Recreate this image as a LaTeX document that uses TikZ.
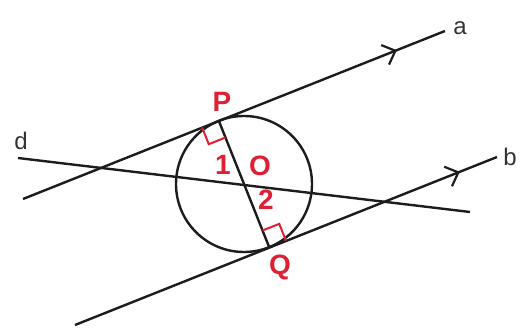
\documentclass[tikz,border=0pt]{standalone}
\usepackage{fontspec}
\setmainfont{Liberation Sans}
\usetikzlibrary{decorations.markings,arrows.meta,calc}
\definecolor{redlab}{RGB}{222,32,52}
\definecolor{ink}{RGB}{28,28,28}
\begin{document}
\begin{tikzpicture}[x=1pt,y=-1pt,
  line/.style={draw=ink,line width=2.4pt},
  midarrow/.style={postaction={decorate},decoration={markings,mark=at position #1 with {\arrow{Straight Barb[length=11pt,width=21pt,line width=2.2pt]}}}},
  redtxt/.style={text=redlab,font=\fontsize{28}{28}\selectfont\bfseries,inner sep=0pt},
  lbl/.style={text=ink!90,font=\fontsize{24}{24}\selectfont,inner sep=0pt},
  rmark/.style={draw=redlab,line width=2pt}]
\useasboundingbox (0,0) rectangle (520,329);
% key points
\coordinate (O) at (244,184);
\coordinate (P) at (218.8,120.8);
\coordinate (Q) at (269.2,247.2);
\coordinate (a1) at (23,199);
\coordinate (a2) at (445,31);
\coordinate (b1) at (75,325);
\coordinate (b2) at (497,157);
\coordinate (d1) at (18,158);
\coordinate (d2) at (470,212);
% circle
\draw[line] (O) circle[radius=68];
% lines
\draw[line,midarrow=0.886] (a1) -- (a2);
\draw[line,midarrow=0.912] (b1) -- (b2);
\draw[line] (d1) -- (d2);
\draw[line] (P) -- (Q);
% right angle marks
\coordinate (Pu) at ($(P)!18pt!(a1)$);
\coordinate (Pn) at ($(P)!18pt!(Q)$);
\draw[rmark] (Pu) -- ($(Pu)+(Pn)-(P)$) -- (Pn);
\coordinate (Qu) at ($(Q)!18pt!(b2)$);
\coordinate (Qn) at ($(Q)!18pt!(P)$);
\draw[rmark] (Qu) -- ($(Qu)+(Qn)-(Q)$) -- (Qn);
% labels
\node[redtxt] (lP) at (222,102) {P};
\node[redtxt] (lO) at (260,166) {O};
\node[redtxt] (l1) at (223,165) {1};
\node[redtxt] (l2) at (266,200) {2};
\node[redtxt] (lQ) at (280,267) {Q};
\node[lbl] (la) at (460,28) {a};
\node[lbl] (lb) at (510,157) {b};
\node[lbl] (ld) at (21,141) {d};
\end{tikzpicture}
\end{document}
